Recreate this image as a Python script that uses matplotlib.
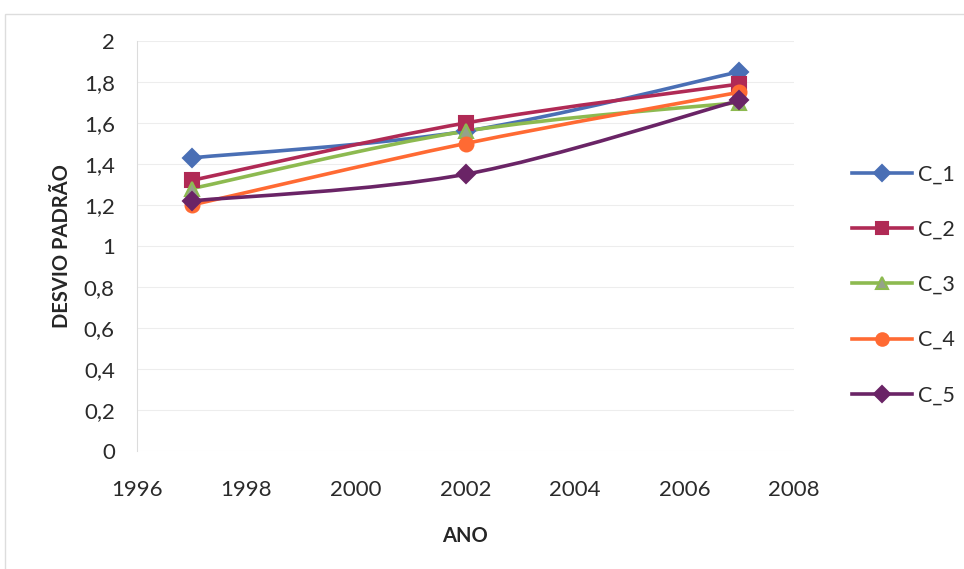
import matplotlib.pyplot as plt
from matplotlib.lines import Line2D
from matplotlib.path import Path
from matplotlib.patches import PathPatch, Rectangle

plt.rcParams["font.family"] = ["Lato", "DejaVu Sans"]

# Data
years = [1997, 2002, 2007]
series_names = ["C_1", "C_2", "C_3", "C_4", "C_5"]
c1 = [1.43, 1.56, 1.85]
c2 = [1.32, 1.60, 1.79]
c3 = [1.28, 1.56, 1.70]
c4 = [1.20, 1.50, 1.75]
c5 = [1.22, 1.35, 1.71]
y_ticks = [0, 0.2, 0.4, 0.6, 0.8, 1, 1.2, 1.4, 1.6, 1.8, 2]
x_ticks = [1996, 1998, 2000, 2002, 2004, 2006, 2008]

STYLES = [
    dict(color="#4A6FB5", marker="D", mfc="#4A6FB5", mec="#4A6FB5", ms=9),
    dict(color="#B02A55", marker="s", mfc="#B02A55", mec="#B02A55", ms=10),
    dict(color="#8DBA50", marker="^", mfc="#95a28a", mec="#8DBA50", ms=10),
    dict(color="#FF6A33", marker="o", mfc="#FF6A33", mec="#FF6A33", ms=10),
    dict(color="#6A2466", marker="D", mfc="#6A2466", mec="#6A2466", ms=9),
]


def smooth_path(xs, ys):
    """Excel-style smoothed line: Catmull-Rom segments as cubic Beziers."""
    pts = list(zip(xs, ys))
    verts = [pts[0]]
    codes = [Path.MOVETO]
    for i in range(len(pts) - 1):
        p0 = pts[i - 1] if i > 0 else pts[i]
        p1, p2 = pts[i], pts[i + 1]
        p3 = pts[i + 2] if i + 2 < len(pts) else pts[i + 1]
        c_a = (p1[0] + (p2[0] - p0[0]) / 6, p1[1] + (p2[1] - p0[1]) / 6)
        c_b = (p2[0] - (p3[0] - p1[0]) / 6, p2[1] - (p3[1] - p1[1]) / 6)
        verts += [c_a, c_b, p2]
        codes += [Path.CURVE4] * 3
    return Path(verts, codes)


fig = plt.figure(figsize=(9.64, 5.69), dpi=100)
ax = fig.add_axes([137 / 964, 1 - 451 / 569, (794 - 137) / 964, (451 - 41) / 569])

handles = []
for name, vals, st in zip(series_names, [c1, c2, c3, c4, c5], STYLES):
    ax.add_patch(PathPatch(smooth_path(years, vals), fill=False,
                           edgecolor=st["color"], lw=2.6, zorder=3,
                           capstyle="round", joinstyle="round"))
    ax.plot(years, vals, linestyle="none", marker=st["marker"], ms=st["ms"],
            mfc=st["mfc"], mec=st["mec"], mew=1.5, zorder=4)
    handles.append(Line2D([], [], color=st["color"], lw=2.6, marker=st["marker"],
                          ms=st["ms"] - 1, mfc=st["mfc"], mec=st["mec"], mew=1.5))

ax.set_xlim(1996, 2008)
ax.set_ylim(0, 2)
ax.set_xticks(x_ticks)
ax.set_yticks(y_ticks)
ax.set_yticklabels([f"{t:g}".replace(".", ",") for t in y_ticks])
ax.tick_params(labelsize=16, colors="#2a2a2a", length=0)
ax.tick_params(axis="x", pad=21)
ax.tick_params(axis="y", pad=16)
ax.grid(axis="y", color="#ededed", lw=0.8)
ax.set_axisbelow(True)
for side in ["top", "right", "bottom"]:
    ax.spines[side].set_visible(False)
ax.spines["left"].set_color("#dcdcdc")

fig.text(465 / 964, 1 - 536 / 569, "ANO", ha="center", va="center",
         fontsize=14.5, fontweight="bold", color="#262626")
fig.text(62 / 964, 1 - 246 / 569, "DESVIO PADRÃO", ha="center", va="center",
         rotation=90, fontsize=14.5, fontweight="bold", color="#262626")

fig.legend(handles, series_names, loc="center left",
           bbox_to_anchor=(852 / 964, 1 - 285 / 569), frameon=False,
           borderaxespad=0, borderpad=0,
           fontsize=15.5, labelspacing=1.63, handlelength=2.8, handletextpad=0.25,
           labelcolor="#2a2a2a")

# outer chart border
fig.add_artist(Rectangle((5 / 964, -0.01), 1.0, 1 - 14 / 569 + 0.01,
                         transform=fig.transFigure, fill=False,
                         edgecolor="#dddddd", lw=1))

fig.savefig("out.png", dpi=100)
